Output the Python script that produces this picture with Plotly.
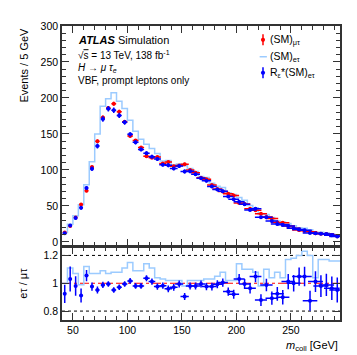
import plotly.graph_objects as go

# binning: 5 GeV bins from 40 to 295 GeV
edges = list(range(40, 300, 5))
centres = [e + 2.5 for e in edges[:-1]]

# (SM)_mu-tau, events per bin
sm_mutau = [13, 22, 34, 52, 71, 104, 140, 173, 186, 192,
            181, 167, 147, 141, 131, 119, 117, 118, 109, 111,
            105, 106, 108, 100, 96, 89, 87, 79, 73.5, 70,
            67, 64.5, 54, 52.5, 46, 44, 39, 34.5, 32.5, 27,
            26.5, 22, 19, 16.5, 15.5, 14, 12, 11.5, 11, 9.5, 8]

# ratio R_eps*(SM)_e-tau / (SM)_mu-tau
ratio_reps = [0.924, 1.031, 0.981, 0.912, 1.055, 0.976, 0.952, 0.988, 0.995, 0.952,
              0.971, 0.995, 1.017, 0.981, 0.981, 1.036, 1.012, 0.976, 0.983, 0.960,
              0.971, 0.995, 0.905, 0.980, 0.980, 0.995, 0.976, 0.976, 0.993, 1.005,
              0.940, 0.921, 1.031, 0.995, 0.964, 1.048, 0.879, 0.988, 0.893, 0.924,
              0.900, 1.012, 1.000, 1.048, 1.048, 0.874, 1.012, 0.980, 0.988, 0.964, 0.952]

ratio_err = [0.065, 0.09, 0.07, 0.05, 0.04, 0.03, 0.025, 0.022, 0.02, 0.02,
             0.02, 0.02, 0.02, 0.02, 0.02, 0.022, 0.022, 0.022, 0.022, 0.024,
             0.024, 0.025, 0.025, 0.025, 0.025, 0.025, 0.026, 0.028, 0.028, 0.03,
             0.03, 0.032, 0.035, 0.036, 0.038, 0.04, 0.042, 0.045, 0.048, 0.05,
             0.052, 0.055, 0.06, 0.065, 0.07, 0.072, 0.075, 0.078, 0.08, 0.085, 0.09]

# ratio (SM)_e-tau / (SM)_mu-tau
ratio_etau = [1.00, 1.11, 1.07, 0.99, 1.12, 1.07, 1.07, 1.09, 1.07, 1.08,
              1.08, 1.11, 1.15, 1.09, 1.09, 1.14, 1.11, 1.04, 1.03, 1.02,
              1.02, 1.02, 0.98, 1.02, 1.02, 1.02, 1.03, 1.03, 1.05, 1.08,
              1.02, 1.02, 1.14, 1.10, 1.10, 1.08, 0.98, 1.10, 1.04, 1.08,
              1.04, 1.17, 1.18, 1.20, 1.23, 1.20, 1.04, 1.17, 1.17, 1.16, 1.16]

# derived series for the top panel
reps_etau = [m * r for m, r in zip(sm_mutau, ratio_reps)]
sm_etau = [m * r for m, r in zip(sm_mutau, ratio_etau)]
err_top = [m * e for m, e in zip(sm_mutau, ratio_err)]
err_red = [0.7 * e for e in err_top]

# step histograms need the last value repeated at the last edge
hist_y = sm_etau + [sm_etau[-1]]
ratio_hist_y = ratio_etau + [ratio_etau[-1]]

RED = "#ff0000"
BLUE = "#0000ff"
LBLUE = "#9ccbff"
FONT = "Liberation Sans, Arial, sans-serif"

fig = go.Figure()

fig.add_trace(go.Scatter(x=edges, y=hist_y, mode="lines", line_shape="hv",
                         line=dict(color=LBLUE, width=1.5), xaxis="x", yaxis="y"))
fig.add_trace(go.Scatter(x=centres, y=sm_mutau, mode="markers",
                         marker=dict(color=RED, size=4),
                         error_y=dict(array=err_red, color=RED, thickness=1.5, width=0),
                         error_x=dict(value=2.5, color=RED, thickness=1.5, width=0),
                         xaxis="x", yaxis="y"))
fig.add_trace(go.Scatter(x=centres, y=reps_etau, mode="markers",
                         marker=dict(color=BLUE, size=4),
                         error_y=dict(array=err_top, color=BLUE, thickness=1.5, width=0),
                         error_x=dict(value=2.5, color=BLUE, thickness=1.5, width=0),
                         xaxis="x", yaxis="y"))

# ratio panel
fig.add_trace(go.Scatter(x=edges, y=ratio_hist_y, mode="lines", line_shape="hv",
                         line=dict(color=LBLUE, width=1.5), xaxis="x2", yaxis="y2"))
fig.add_trace(go.Scatter(x=centres, y=ratio_reps, mode="markers",
                         marker=dict(color=BLUE, size=4),
                         error_y=dict(array=ratio_err, color=BLUE, thickness=1.5, width=0),
                         error_x=dict(value=2.5, color=BLUE, thickness=1.5, width=0),
                         xaxis="x2", yaxis="y2"))

for lvl, dash, col in [(1.2, "dot", "black"), (0.8, "dot", "black"), (1.0, "dashdot", RED)]:
    fig.add_shape(type="line", xref="x2 domain", yref="y2", x0=0, x1=1, y0=lvl, y1=lvl,
                  line=dict(color=col, width=1, dash=dash), layer="below")

axis_common = dict(showline=True, linecolor="#333", linewidth=1.5, mirror="ticks",
                   ticks="inside", tickcolor="#333", tickwidth=1, showgrid=False,
                   zeroline=False, tickfont=dict(size=10.5, color="black"))

fig.update_layout(
    width=357, height=355,
    margin=dict(l=54, r=25, t=16, b=43),
    paper_bgcolor="white", plot_bgcolor="white",
    font=dict(family=FONT, size=11, color="black"),
    showlegend=False,
    xaxis=dict(domain=[0, 1], range=[40, 295], anchor="y", showticklabels=False,
               dtick=50, tick0=0, ticklen=7,
               minor=dict(dtick=10, ticklen=4, ticks="inside", tickcolor="#333"),
               **axis_common),
    yaxis=dict(domain=[0.2534, 1], range=[-5, 300], anchor="x", dtick=50, ticklen=7,
               minor=dict(dtick=10, ticklen=4, ticks="inside", tickcolor="#333"),
               **axis_common),
    xaxis2=dict(domain=[0, 1], range=[40, 295], anchor="y2", matches="x",
                dtick=50, tick0=0, ticklen=7,
                minor=dict(dtick=10, ticklen=4, ticks="inside", tickcolor="#333"),
                **axis_common),
    yaxis2=dict(domain=[0, 0.2466], range=[0.736, 1.257], anchor="x2",
                tickvals=[0.8, 1.0, 1.2], ticktext=["0.8", "1", "1.2"], ticklen=7,
                **axis_common),
)

# hand-made legend (marker with vertical bar, line for histogram)
leg_x, txt_x = 0.723, 0.741
rows = [(0.937, RED, "(SM)<sub>μτ</sub>", "marker"),
        (0.860, LBLUE, "(SM)<sub>eτ</sub>", "line"),
        (0.787, BLUE, "R<sub>ε</sub>*(SM)<sub>eτ</sub>", "marker")]
for y, col, label, kind in rows:
    if kind == "marker":
        fig.add_shape(type="line", xref="x domain", yref="y domain",
                      x0=leg_x, x1=leg_x, y0=y - 0.025, y1=y + 0.025,
                      line=dict(color=col, width=1.5))
        fig.add_shape(type="circle", xref="x domain", yref="y domain",
                      x0=leg_x - 0.0075, x1=leg_x + 0.0075, y0=y - 0.0095, y1=y + 0.0095,
                      line=dict(color=col, width=0), fillcolor=col)
    else:
        fig.add_shape(type="line", xref="x domain", yref="y domain",
                      x0=leg_x - 0.012, x1=leg_x + 0.014, y0=y, y1=y,
                      line=dict(color=col, width=1.5))
    fig.add_annotation(text=label, xref="x domain", yref="y domain", x=txt_x, y=y,
                       xanchor="left", yanchor="middle", showarrow=False,
                       font=dict(size=10.5))

ann = [
    dict(text="<b><i>ATLAS</i></b> Simulation", x=0.05, y=0.937, size=11),
    dict(text="√<span style='text-decoration:overline'>s</span> = 13 TeV, 138 fb<sup>-1</sup>",
         x=0.05, y=0.869, size=10),
    dict(text="<i>H</i> → <i>μ τ<sub>e</sub></i>", x=0.05, y=0.81, size=10),
    dict(text="VBF, prompt leptons only", x=0.05, y=0.751, size=10),
]
for a in ann:
    fig.add_annotation(text=a["text"], xref="x domain", yref="y domain",
                       x=a["x"], y=a["y"], xanchor="left", yanchor="middle",
                       showarrow=False, font=dict(size=a["size"]))

fig.add_annotation(text="Events / 5 GeV", textangle=-90, xref="paper", yref="paper",
                   x=-0.14, y=1.0, xanchor="center", yanchor="top",
                   showarrow=False, font=dict(size=11))
fig.add_annotation(text="eτ / μτ", textangle=-90, xref="paper", yref="y2 domain",
                   x=-0.14, y=0.5, xanchor="center", yanchor="middle",
                   showarrow=False, font=dict(size=11))
fig.add_annotation(text="<i>m</i><sub>coll</sub> [GeV]", xref="paper", yref="paper",
                   x=1.0, y=-0.088, xanchor="right", yanchor="middle",
                   showarrow=False, font=dict(size=11))

fig.write_html("out.html")
